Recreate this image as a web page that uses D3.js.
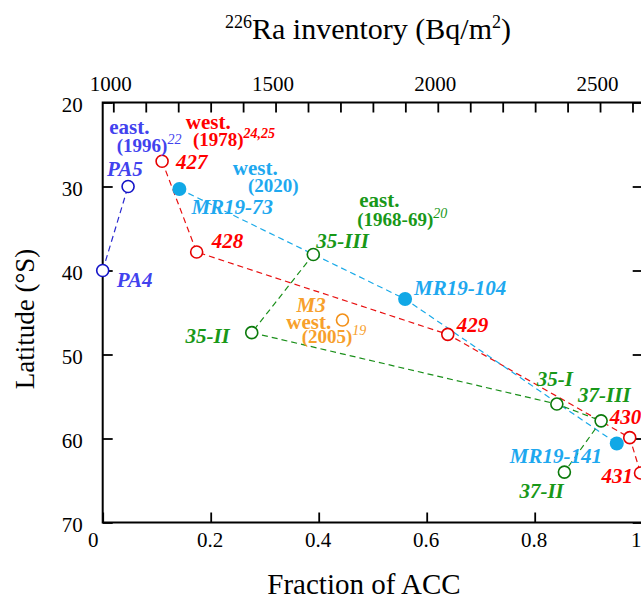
<!DOCTYPE html>
<html>
<head>
<script src="https://d3js.org/d3.v7.min.js"></script>
<style>
body { margin: 0; background: #fff; }
svg text { font-family: "Liberation Serif", "Times New Roman", serif; }
</style>
</head>
<body>
<script>
// axis ticks
var fracTicks = [0, 0.2, 0.4, 0.6, 0.8, 1];
var latTicks = [20, 30, 40, 50, 60, 70];
var raTicks = [1000, 1100, 1200, 1300, 1400, 1500, 1600, 1700, 1800, 1900, 2000, 2100, 2200, 2300, 2400, 2500, 2600];
var raLabels = [1000, 1500, 2000, 2500];

// east. (1996) PA stations
var paNames = ['PA4', 'PA5'];
var paFrac = [0.0, 0.047];
var paLat = [40.0, 30.0];

// west. (1978) stations 427-431
var w78Names = ['427', '428', '429', '430', '431'];
var w78Frac = [0.110, 0.174, 0.639, 0.976, 0.996];
var w78Lat = [27.0, 37.8, 47.6, 59.9, 64.1];

// west. (2020) MR19
var mrNames = ['MR19-73', 'MR19-104', 'MR19-141'];
var mrFrac = [0.142, 0.560, 0.952];
var mrLat = [30.3, 43.4, 60.6];

// east. (1968-69)
var e68Names = ['35-III', '35-II', '35-I', '37-III', '37-II'];
var e68Frac = [0.390, 0.276, 0.841, 0.923, 0.855];
var e68Lat = [38.1, 47.4, 55.9, 57.9, 64.0];

// west. (2005) M3
var m3Names = ['M3'];
var m3Frac = [0.444];
var m3Lat = [45.9];

var width = 641, height = 606;
var svg = d3.select('body').append('svg')
    .attr('width', width)
    .attr('height', height);

var x = d3.scaleLinear().domain([0, 1]).range([102.7, 642.7]);
var y = d3.scaleLinear().domain([20, 70]).range([102.5, 522.5]);
var xTop = d3.scaleLinear().domain([967.3, 2631.5]).range([102.7, 642.7]);

function styleAxis(g) {
  g.attr('font-family', null).attr('font-size', null);
  g.select('.domain').remove();
  g.selectAll('.tick line').attr('stroke', '#000').attr('stroke-width', 1.8);
  g.selectAll('.tick text').attr('fill', '#000').style('font-size', '21px');
}

// bottom axis
svg.append('g')
    .attr('transform', 'translate(0,' + y(70) + ')')
    .call(d3.axisBottom(x).tickValues(fracTicks).tickSize(-10).tickPadding(10).tickFormat(d3.format('~g')))
    .call(styleAxis)
    .selectAll('.tick text')
    .attr('dx', function(d) { return d == 0 ? -10 : (d == 1 ? -7 : -1); });

// left axis
svg.append('g')
    .attr('transform', 'translate(' + x(0) + ',0)')
    .call(d3.axisLeft(y).tickValues(latTicks).tickSize(-10).tickPadding(20))
    .call(styleAxis)
    .selectAll('.tick text').attr('dy', '0.45em');

// right ticks
svg.append('g')
    .attr('transform', 'translate(' + x(1) + ',0)')
    .call(d3.axisRight(y).tickValues(latTicks).tickSize(-10).tickFormat(''))
    .call(styleAxis);

// top axis (226Ra inventory)
svg.append('g')
    .attr('transform', 'translate(0,' + y(20) + ')')
    .call(d3.axisTop(xTop).tickValues(raTicks).tickSize(-10).tickPadding(12)
      .tickFormat(function(d) { return raLabels.indexOf(d) >= 0 ? d : ''; }))
    .call(styleAxis)
    .selectAll('.tick text').attr('dx', -3);

// frame
svg.append('rect')
    .attr('x', x(0)).attr('y', y(20))
    .attr('width', x(1) - x(0)).attr('height', y(70) - y(20))
    .attr('fill', 'none').attr('stroke', '#000').attr('stroke-width', 2);

// titles
var topTitle = svg.append('text').attr('x', 368).attr('y', 39)
    .attr('text-anchor', 'middle').style('font-size', '30px');
topTitle.append('tspan').text('226').style('font-size', '18px').attr('dy', -11);
topTitle.append('tspan').text('Ra inventory (Bq/m').attr('dy', 11);
topTitle.append('tspan').text('2').style('font-size', '18px').attr('dy', -11);
topTitle.append('tspan').text(')').attr('dy', 11);

svg.append('text').attr('x', 364).attr('y', 594)
    .attr('text-anchor', 'middle').style('font-size', '29px')
    .text('Fraction of ACC');

svg.append('text')
    .attr('transform', 'translate(34,319) rotate(-90)')
    .attr('text-anchor', 'middle').style('font-size', '27px')
    .text('Latitude (\u00b0S)');

// series
var series = [
  {names: paNames, frac: paFrac, lat: paLat, line: '#2a2ad0', stroke: '#1414c8', text: '#4242ee', filled: false,
   offs: [[14, 16, 'start'], [-21, -11, 'start']]},
  {names: w78Names, frac: w78Frac, lat: w78Lat, line: '#e81010', stroke: '#e60000', text: '#ff0000', filled: false,
   offs: [[14, 8, 'start'], [15, -4, 'start'], [9, -2, 'start'], [-20, -14, 'start'], [-39, 10, 'start']]},
  {names: mrNames, frac: mrFrac, lat: mrLat, line: '#1aaae8', stroke: '#11a8e6', text: '#1ea8ef', filled: true,
   offs: [[12, 25, 'start'], [9, -4, 'start'], [-107, 19, 'start']]},
  {names: e68Names, frac: e68Frac, lat: e68Lat, line: '#1a8f1a', stroke: '#0b7a0b', text: '#189818', filled: false,
   offs: [[3, -7, 'start'], [-22, 10, 'end'], [-20, -18, 'start'], [-23, -19, 'start'], [-45, 26, 'start']]},
  {names: m3Names, frac: m3Frac, lat: m3Lat, line: null, stroke: '#f39018', text: '#f7a02c', filled: false,
   offs: [[-46, -8, 'start']]}
];

series.forEach(function(s) {
  s.pts = s.names.map(function(n, i) { return {name: n, f: s.frac[i], lat: s.lat[i], off: s.offs[i]}; });
});

var line = d3.line().x(function(d) { return x(d.f); }).y(function(d) { return y(d.lat); });

series.forEach(function(s) {
  if (!s.line) return;
  svg.append('path')
      .datum(s.pts)
      .attr('d', line)
      .attr('fill', 'none')
      .attr('stroke', s.line)
      .attr('stroke-width', 1.2)
      .attr('stroke-dasharray', '6,4');
});

series.forEach(function(s) {
  svg.append('g').selectAll('circle')
      .data(s.pts)
      .enter()
      .append('circle')
      .attr('cx', function(d) { return x(d.f); })
      .attr('cy', function(d) { return y(d.lat); })
      .attr('r', s.filled ? 7 : 6)
      .attr('fill', s.filled ? s.stroke : '#fff')
      .attr('stroke', s.filled ? 'none' : s.stroke)
      .attr('stroke-width', 1.6);
  svg.append('g').selectAll('text')
      .data(s.pts)
      .enter()
      .append('text')
      .attr('x', function(d) { return x(d.f) + d.off[0]; })
      .attr('y', function(d) { return y(d.lat) + d.off[1]; })
      .attr('text-anchor', function(d) { return d.off[2]; })
      .attr('fill', s.text)
      .style('font-size', '21px')
      .style('font-weight', 'bold')
      .style('font-style', 'italic')
      .text(function(d) { return d.name; });
});

// group labels: [word, year, ref, colour, word pos (frac, lat), year pos (frac, lat), bold ref]
var groups = [
  ['east.', '(1996)', '22', '#4242ee', [0.012, 23.8], [0.026, 25.85], false],
  ['west.', '(1978)', '24,25', '#ff0000', [0.154, 23.2], [0.167, 25.18], true],
  ['west.', '(2020)', '', '#1ea8ef', [0.241, 28.63], [0.269, 30.62], false],
  ['east.', '(1968-69)', '20', '#189818', [0.475, 32.48], [0.4715, 34.7], false],
  ['west.', '(2005)', '19', '#f7a02c', [0.340, 46.99], [0.3685, 48.6], false]
];

groups.forEach(function(g) {
  svg.append('text')
      .attr('x', x(g[4][0])).attr('y', y(g[4][1]))
      .attr('fill', g[3]).style('font-size', '21px').style('font-weight', 'bold')
      .text(g[0]);
  var t = svg.append('text')
      .attr('x', x(g[5][0])).attr('y', y(g[5][1]))
      .attr('fill', g[3]).style('font-size', '19px').style('font-weight', 'bold');
  t.append('tspan').text(g[1]);
  if (g[2]) {
    t.append('tspan').text(g[2]).attr('dy', -8)
        .style('font-size', '14px').style('font-style', 'italic')
        .style('font-weight', g[6] ? 'bold' : 'normal');
  }
});
</script>
</body>
</html>
